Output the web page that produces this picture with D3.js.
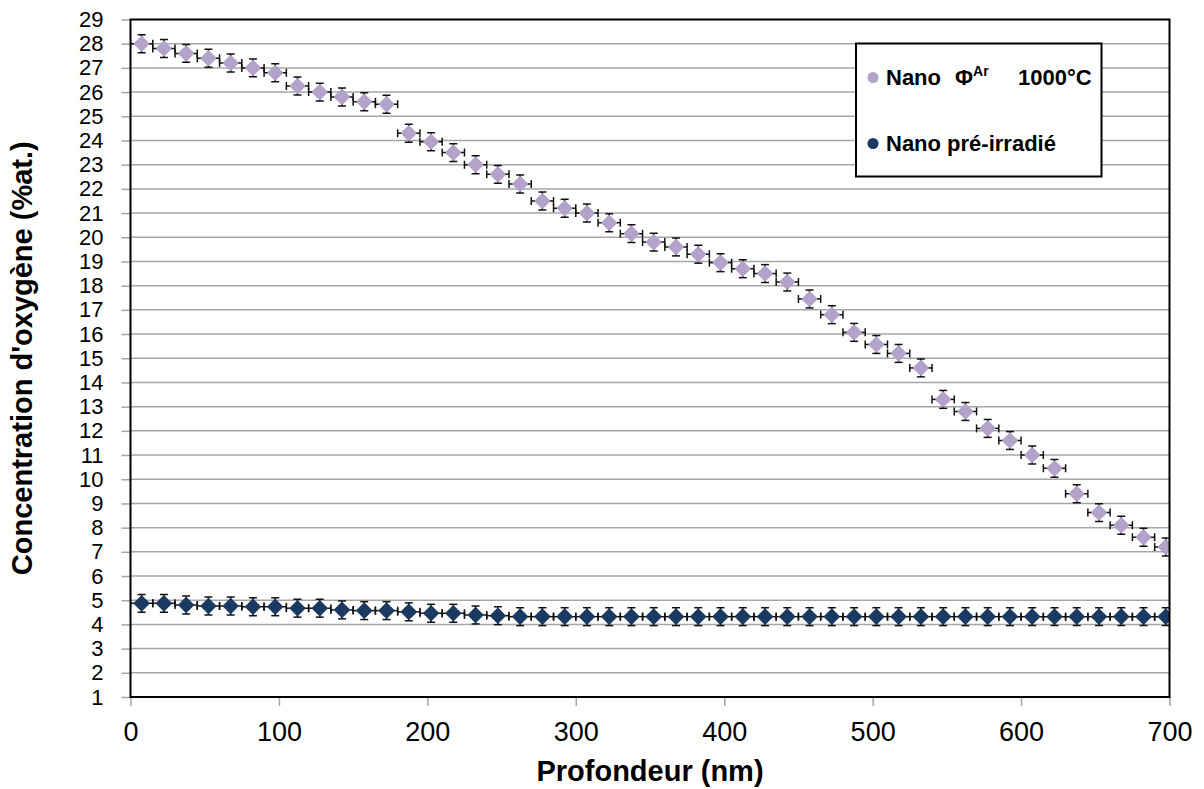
<!DOCTYPE html>
<html>
<head>
<meta charset="utf-8">
<script src="https://cdn.jsdelivr.net/npm/d3@7/dist/d3.min.js"></script>
<style>
html,body{margin:0;padding:0;background:#fff;}
svg{display:block;font-family:Arial,"Liberation Sans",sans-serif;}
</style>
</head>
<body>
<svg id="chart" width="1204" height="789"></svg>
<script>
// ---- data ----
const depth = [7.5,22.5,37.5,52.5,67.5,82.5,97.5,112.5,127.5,142.5,157.5,172.5,187.5,202.5,217.5,232.5,247.5,262.5,277.5,292.5,307.5,322.5,337.5,352.5,367.5,382.5,397.5,412.5,427.5,442.5,457.5,472.5,487.5,502.5,517.5,532.5,547.5,562.5,577.5,592.5,607.5,622.5,637.5,652.5,667.5,682.5,697.5];
const nanoAr = [28.0,27.8,27.6,27.4,27.2,27.0,26.8,26.25,26.0,25.8,25.6,25.5,24.3,23.95,23.5,23.0,22.6,22.2,21.5,21.2,21.0,20.6,20.15,19.8,19.6,19.3,18.95,18.7,18.5,18.15,17.45,16.8,16.07,15.57,15.2,14.6,13.3,12.8,12.1,11.6,11.0,10.45,9.4,8.62,8.1,7.6,7.2];
const nanoPre = [4.87,4.87,4.8,4.76,4.76,4.73,4.73,4.67,4.67,4.6,4.57,4.57,4.52,4.46,4.46,4.39,4.36,4.32,4.32,4.32,4.32,4.32,4.32,4.32,4.32,4.32,4.32,4.32,4.32,4.32,4.32,4.32,4.32,4.32,4.32,4.32,4.32,4.32,4.32,4.32,4.32,4.32,4.32,4.32,4.32,4.32,4.32];
const xErr = 7.5;     // nm
const yErr = 0.37;    // %at.
const xTicks = [0,100,200,300,400,500,600,700];
const yTicks = d3.range(1,30);
const seriesNames = ["Nano", "Nano pré-irradié"];
const seriesColors = ["#b3a3ca", "#1b3a62"];

// ---- layout ----
const svg = d3.select("#chart");
const L = 130.5, R = 1169.5, T = 19.5, B = 697;
const x = d3.scaleLinear().domain([0,700]).range([L,R]);
const y = d3.scaleLinear().domain([1,29]).range([B,T]);

// gridlines
svg.append("g").selectAll("line").data(yTicks.filter(v=>v>1 && v<29)).join("line")
  .attr("x1",L).attr("x2",R).attr("y1",d=>y(d)).attr("y2",d=>y(d))
  .attr("stroke","#a6a6a6").attr("stroke-width",1.5);

// y axis
const yAxis = svg.append("g").attr("transform",`translate(${L},0)`)
  .call(d3.axisLeft(y).tickValues(yTicks).tickSize(9).tickPadding(18).tickFormat(d3.format("d")));
yAxis.select(".domain").remove();
yAxis.selectAll("line").attr("stroke","#a6a6a6").attr("stroke-width",1.5);
yAxis.selectAll("text").attr("font-size",22).attr("fill","#000")
  .attr("font-family","Arial, 'Liberation Sans', sans-serif");

// x axis
const xAxis = svg.append("g").attr("transform",`translate(0,${B})`)
  .call(d3.axisBottom(x).tickValues(xTicks).tickSize(9).tickPadding(16).tickFormat(d3.format("d")));
xAxis.select(".domain").remove();
xAxis.selectAll("line").attr("stroke","#a6a6a6").attr("stroke-width",1.5);
xAxis.selectAll("text").attr("font-size",27).attr("fill","#000")
  .attr("font-family","Arial, 'Liberation Sans', sans-serif");

// clip
svg.append("clipPath").attr("id","clip").append("rect")
  .attr("x",L).attr("y",T).attr("width",R-L).attr("height",B-T);
const plot = svg.append("g").attr("clip-path","url(#clip)");

const cap = 4;
function drawSeries(vals, color){
  const data = depth.map((d,i)=>({x:d,y:vals[i]}));
  const g = plot.append("g");
  const eb = g.append("g").attr("stroke","#111").attr("stroke-width",1.5).attr("fill","none");
  data.forEach(p=>{
    const cx = x(p.x), cy = y(p.y);
    const x0 = x(p.x - xErr), x1 = x(p.x + xErr);
    const y0 = y(p.y - yErr), y1 = y(p.y + yErr);
    eb.append("line").attr("x1",x0).attr("x2",x1).attr("y1",cy).attr("y2",cy);
    eb.append("line").attr("x1",x0).attr("x2",x0).attr("y1",cy-cap).attr("y2",cy+cap);
    eb.append("line").attr("x1",x1).attr("x2",x1).attr("y1",cy-cap).attr("y2",cy+cap);
    eb.append("line").attr("x1",cx).attr("x2",cx).attr("y1",y0).attr("y2",y1);
    eb.append("line").attr("x1",cx-cap).attr("x2",cx+cap).attr("y1",y0).attr("y2",y0);
    eb.append("line").attr("x1",cx-cap).attr("x2",cx+cap).attr("y1",y1).attr("y2",y1);
  });
  g.append("g").selectAll("path").data(data).join("path")
    .attr("d", d3.symbol().type(d3.symbolSquare).size(78))
    .attr("transform", d=>`translate(${x(d.x)},${y(d.y)}) rotate(45)`)
    .attr("fill",color).attr("stroke",color).attr("stroke-width",3).attr("stroke-linejoin","round");
}
drawSeries(nanoPre, seriesColors[1]);
drawSeries(nanoAr, seriesColors[0]);

// plot border
svg.append("rect").attr("x",L).attr("y",T).attr("width",R-L).attr("height",B-T)
  .attr("fill","none").attr("stroke","#000").attr("stroke-width",2);

// axis titles
svg.append("text").attr("x",(L+R)/2).attr("y",781).attr("text-anchor","middle")
  .attr("font-size",29).attr("font-weight","bold").attr("fill","#000")
  .text("Profondeur (nm)");
svg.append("text").attr("transform",`translate(32,${(T+B)/2}) rotate(-90)`)
  .attr("text-anchor","middle").attr("font-size",29).attr("font-weight","bold").attr("fill","#000")
  .text("Concentration d'oxygène (%at.)");

// legend
const lg = svg.append("g");
lg.append("rect").attr("x",856).attr("y",43.5).attr("width",245.5).attr("height",133)
  .attr("fill","#fff").attr("stroke","#000").attr("stroke-width",2);
lg.append("circle").attr("cx",873).attr("cy",77.5).attr("r",5.5).attr("fill",seriesColors[0]);
lg.append("circle").attr("cx",873).attr("cy",143.5).attr("r",5.5).attr("fill",seriesColors[1]);
const t1 = lg.append("text").attr("x",886).attr("y",84.5).attr("font-size",22).attr("font-weight","bold").attr("fill","#000");
t1.append("tspan").text(seriesNames[0]);
t1.append("tspan").attr("x",955).text("Φ");
t1.append("tspan").attr("dy",-9).attr("font-size",14).text("Ar");
t1.append("tspan").attr("x",1018).attr("dy",9).text("1000°C");
lg.append("text").attr("x",886).attr("y",150.5).attr("font-size",22).attr("font-weight","bold").attr("fill","#000")
  .text(seriesNames[1]);
</script>
</body>
</html>
